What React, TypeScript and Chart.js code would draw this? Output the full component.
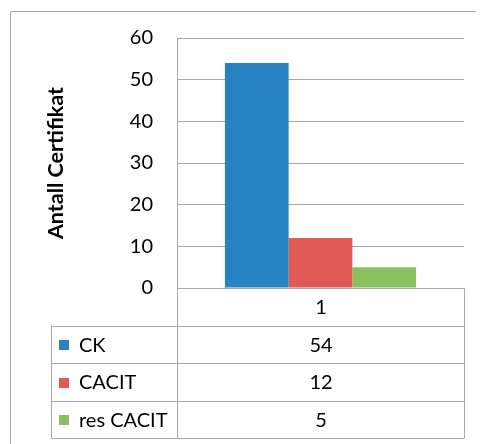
import React, { useEffect, useRef } from "react";
import { Chart, registerables } from "chart.js";

Chart.register(...registerables);

const categories = ["1"];
const seriesNames = ["CK", "CACIT", "res CACIT"];
const ckValues = [54];
const cacitValues = [12];
const resCacitValues = [5];
const seriesColors = ["#2682C1", "#E05A55", "#88BF5F"];
const yMin = 0;
const yMax = 60;
const yStep = 10;
const yTitle = "Antall Certifikat";

const FONT = "Lato, 'Open Sans', sans-serif";
const GRID = "#a6a6a6";

const tablePlugin = {
  id: "dataTable",
  afterDraw(chart: any) {
    const ctx = chart.ctx as CanvasRenderingContext2D;
    const { left, right, bottom, top } = chart.chartArea;
    const W = chart.width;
    const H = chart.height;
    ctx.save();
    ctx.strokeStyle = GRID;
    ctx.lineWidth = 1;
    // outer border
    ctx.beginPath();
    ctx.rect(2.5, 3.5, W - 5, H + 20);
    ctx.stroke();

    const headerH = 37;
    const rowH = 37.5;
    const labelLeft = 43;
    const L = Math.round(left) + 0.5;
    const R = Math.round(right) + 0.5;
    const B = Math.round(bottom) + 0.5;
    const headerBottom = B + headerH;
    const nRows = chart.data.datasets.length;
    const tableBottom = headerBottom + rowH * nRows;

    ctx.beginPath();
    ctx.moveTo(L, B);
    ctx.lineTo(R, B);
    ctx.moveTo(R, B);
    ctx.lineTo(R, tableBottom);
    ctx.moveTo(L, top);
    ctx.lineTo(L, tableBottom);
    ctx.moveTo(labelLeft + 0.5, headerBottom);
    ctx.lineTo(labelLeft + 0.5, tableBottom);
    for (let i = 0; i <= nRows; i++) {
      const y = Math.round(headerBottom + rowH * i) + 0.5;
      ctx.moveTo(labelLeft + 0.5, y);
      ctx.lineTo(R, y);
    }
    ctx.stroke();

    ctx.fillStyle = "#000";
    ctx.font = `20px ${FONT}`;
    ctx.textBaseline = "middle";
    ctx.textAlign = "center";
    const cx = (L + R) / 2;
    chart.data.labels.forEach((lab: string) => {
      ctx.fillText(lab, cx, B + headerH / 2 + 1);
    });
    chart.data.datasets.forEach((ds: any, i: number) => {
      const yc = headerBottom + rowH * i + rowH / 2 + 1;
      ctx.fillStyle = ds.backgroundColor;
      ctx.fillRect(labelLeft + 8, Math.round(yc - 5), 10, 10);
      ctx.fillStyle = "#000";
      ctx.textAlign = "left";
      ctx.fillText(ds.label, labelLeft + 28, yc);
      ctx.textAlign = "center";
      ctx.fillText(String(ds.data[0]), cx, yc);
    });
    ctx.restore();
  },
};

export default function App() {
  const ref = useRef<HTMLCanvasElement | null>(null);
  useEffect(() => {
    if (!ref.current) return;
    const chart = new Chart(ref.current, {
      type: "bar",
      data: {
        labels: categories,
        datasets: [
          { label: seriesNames[0], data: ckValues, backgroundColor: seriesColors[0] },
          { label: seriesNames[1], data: cacitValues, backgroundColor: seriesColors[1] },
          { label: seriesNames[2], data: resCacitValues, backgroundColor: seriesColors[2] },
        ],
      },
      options: {
        animation: false,
        responsive: false,
        maintainAspectRatio: false,
        layout: { padding: { left: 0, top: 30, right: 20, bottom: 156 } },
        plugins: { legend: { display: false }, tooltip: { enabled: false } },
        datasets: { bar: { categoryPercentage: 0.666, barPercentage: 1 } },
        scales: {
          x: { display: false },
          y: {
            min: yMin,
            max: yMax,
            afterFit: (scale: any) => {
              scale.width = 169;
            },
            ticks: {
              stepSize: yStep,
              padding: 0,
              color: "#000",
              font: { family: FONT, size: 20 },
            },
            grid: {
              color: GRID,
              drawTicks: true,
              tickLength: 24,
              tickColor: "rgba(0,0,0,0)",
              lineWidth: 1,
            },
            border: { display: true, color: GRID, width: 1 },
            title: {
              display: true,
              text: yTitle,
              color: "#000",
              font: { family: FONT, size: 21.5, weight: "bold" },
              padding: { top: 35, bottom: 0 },
            },
          },
        },
      },
      plugins: [tablePlugin],
    });
    return () => chart.destroy();
  }, []);
  return <canvas ref={ref} width={476} height={436} style={{ display: "block" }} />;
}
